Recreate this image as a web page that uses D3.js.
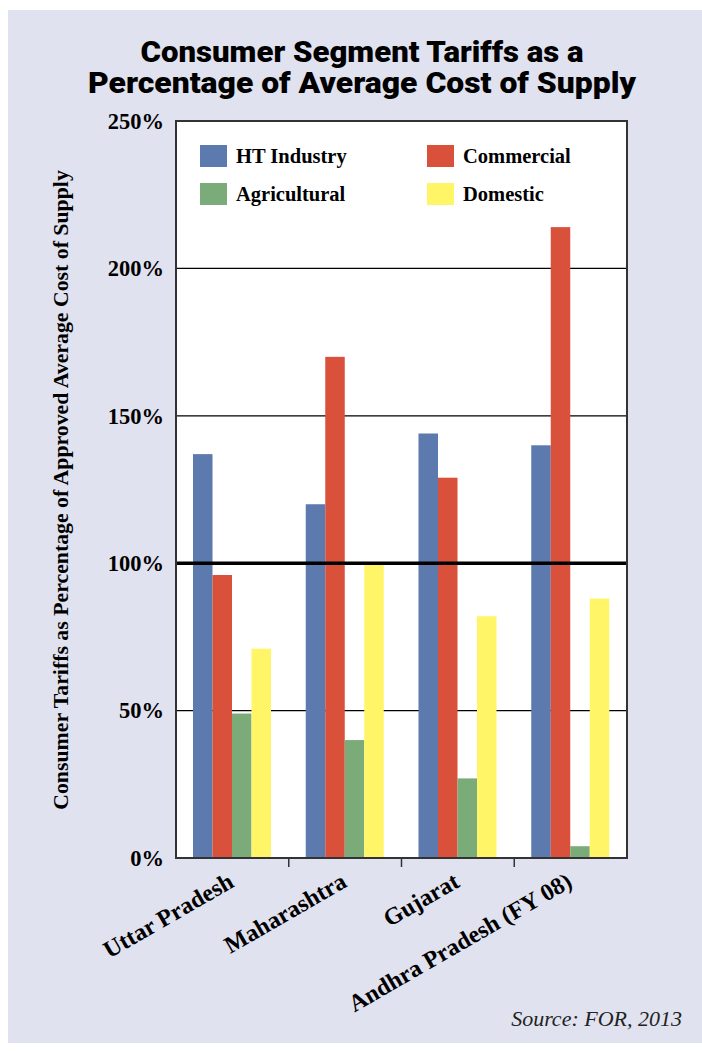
<!DOCTYPE html>
<html>
<head>
<meta charset="utf-8">
<script src="https://cdn.jsdelivr.net/npm/d3@7/dist/d3.min.js"></script>
<style>
  html, body { margin: 0; padding: 0; background: #ffffff; }
  svg { display: block; }
</style>
</head>
<body>
<svg id="chart" width="702" height="1051"></svg>
<script>
const categories = ["Uttar Pradesh", "Maharashtra", "Gujarat", "Andhra Pradesh (FY 08)"];
const seriesNames = ["HT Industry", "Commercial", "Agricultural", "Domestic"];
const htIndustry   = [137, 120, 144, 140];
const commercial   = [96, 170, 129, 214];
const agricultural = [49, 40, 27, 4];
const domestic     = [71, 100, 82, 88];
const yTicks = [0, 50, 100, 150, 200, 250];
const colors = ["#5c7aae", "#d9503b", "#7aab78", "#fff566"];

const seriesValues = [htIndustry, commercial, agricultural, domestic];

const svg = d3.select("#chart");
const W = 702, H = 1051;
const serif = "'Liberation Serif', 'DejaVu Serif', serif";

// background panel
svg.append("rect").attr("x", 8).attr("y", 10).attr("width", W - 8).attr("height", 1033)
  .attr("fill", "#e0e2ef");

// Title
const title = svg.append("g");
[["Consumer Segment Tariffs as a", 62, 443], ["Percentage of Average Cost of Supply", 93, 548]].forEach(([t, yy, w]) => {
  title.append("text")
    .attr("x", 362).attr("y", yy)
    .attr("text-anchor", "middle")
    .attr("font-family", "Roboto, 'Liberation Sans', sans-serif")
    .attr("font-weight", 900)
    .attr("font-size", 29)
    .attr("textLength", w)
    .attr("lengthAdjust", "spacingAndGlyphs")
    .attr("fill", "#000")
    .text(t);
});

const m = { left: 176, right: 627, top: 121, bottom: 858 };

const x0 = d3.scaleBand().domain(categories).range([m.left, m.right]).paddingInner(0).paddingOuter(0);
const x1 = d3.scaleBand().domain(seriesNames).range([17, 17 + 78]);
const y = d3.scaleLinear().domain([0, 250]).range([m.bottom, m.top]);

// plot background
svg.append("rect").attr("x", m.left).attr("y", m.top)
  .attr("width", m.right - m.left).attr("height", m.bottom - m.top)
  .attr("fill", "#ffffff");

// thin gridlines
svg.append("g").selectAll("line")
  .data(yTicks.filter(d => d !== 0 && d !== 250 && d !== 100))
  .join("line")
  .attr("x1", m.left).attr("x2", m.right)
  .attr("y1", d => y(d)).attr("y2", d => y(d))
  .attr("stroke", "#000").attr("stroke-width", 1.2);

// bars
const groups = svg.append("g").selectAll("g")
  .data(categories)
  .join("g")
  .attr("transform", d => `translate(${x0(d)},0)`);

groups.selectAll("rect")
  .data((d, i) => seriesNames.map((s, j) => ({ s, v: seriesValues[j][i], c: colors[j] })))
  .join("rect")
  .attr("x", d => x1(d.s))
  .attr("width", x1.bandwidth())
  .attr("y", d => y(d.v))
  .attr("height", d => y(0) - y(d.v))
  .attr("fill", d => d.c);

// thick 100% line
svg.append("line")
  .attr("x1", m.left).attr("x2", m.right)
  .attr("y1", y(100)).attr("y2", y(100))
  .attr("stroke", "#000").attr("stroke-width", 3.5);

// frame
svg.append("rect").attr("x", m.left).attr("y", m.top)
  .attr("width", m.right - m.left).attr("height", m.bottom - m.top)
  .attr("fill", "none").attr("stroke", "#333").attr("stroke-width", 2);

// Y axis labels
const yAxis = d3.axisLeft(y).tickValues(yTicks).tickSize(0).tickPadding(12).tickFormat(d => d + "%");
const ya = svg.append("g").attr("transform", `translate(${m.left},0)`).call(yAxis);
ya.select(".domain").remove();
ya.selectAll("text")
  .attr("font-family", serif).attr("font-weight", "bold").attr("font-size", 22.5)
  .attr("fill", "#000");

// X axis ticks between groups
svg.append("g").selectAll("line")
  .data(categories.slice(1))
  .join("line")
  .attr("x1", d => x0(d)).attr("x2", d => x0(d))
  .attr("y1", m.bottom).attr("y2", m.bottom + 9)
  .attr("stroke", "#333").attr("stroke-width", 1.5);

// X labels
svg.append("g").selectAll("text")
  .data(categories)
  .join("text")
  .attr("transform", d => `translate(${x0(d) + x0.bandwidth() / 2 + 3},886) rotate(-30)`)
  .attr("text-anchor", "end")
  .attr("font-family", serif).attr("font-weight", "bold").attr("font-size", 24)
  .attr("fill", "#000")
  .text(d => d);

// Y title
const yt = svg.append("text")
  .attr("transform", "translate(68,490) rotate(-90)")
  .attr("text-anchor", "middle")
  .attr("font-family", serif).attr("font-weight", "bold").attr("font-size", 17)
  .attr("fill", "#000")
  .text("Consumer Tariffs as Percentage of Approved Average Cost of Supply");
{
  const len = yt.node().getComputedTextLength();
  yt.attr("font-size", 17 * 640 / len);
}

// Legend
const legendPos = [[200, 145], [427, 145], [200, 183], [427, 183]];
const lg = svg.append("g").selectAll("g")
  .data(seriesNames)
  .join("g")
  .attr("transform", (d, i) => `translate(${legendPos[i][0]},${legendPos[i][1]})`);
lg.append("rect").attr("width", 27).attr("height", 22).attr("fill", (d, i) => colors[i]);
lg.append("text").attr("x", 36).attr("y", 18)
  .attr("font-family", serif).attr("font-weight", "bold").attr("font-size", 20.5)
  .attr("fill", "#000")
  .text(d => d);

// Source
svg.append("text")
  .attr("x", 682).attr("y", 1026)
  .attr("text-anchor", "end")
  .attr("font-family", serif).attr("font-style", "italic").attr("font-size", 22)
  .attr("fill", "#222")
  .text("Source: FOR, 2013");
</script>
</body>
</html>
